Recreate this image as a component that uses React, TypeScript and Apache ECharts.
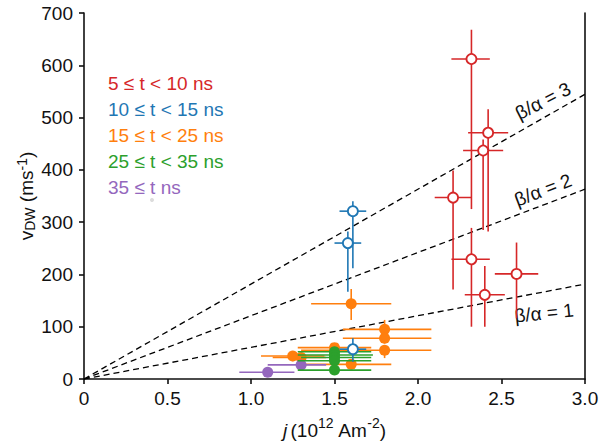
import React, { useEffect, useRef } from "react";
import * as echarts from "echarts";

// [j, v, jLow, jHigh, vLow, vHigh]
const red5to10 = [
  [2.32, 612, 2.2, 2.43, 325, 668],
  [2.42, 471, 2.3, 2.54, 282, 516],
  [2.39, 437, 2.27, 2.51, 285, 458],
  [2.21, 347, 2.1, 2.32, 171, 399],
  [2.32, 229, 2.2, 2.43, 100, 289],
  [2.59, 201, 2.46, 2.72, 116, 261],
  [2.4, 161, 2.28, 2.52, 100, 216],
];
const blue10to15 = [
  [1.61, 321, 1.53, 1.69, 212, 340],
  [1.58, 260, 1.5, 1.66, 167, 282],
  [1.61, 57, 1.53, 1.69, 33, 78],
];
const orange15to25 = [
  [1.6, 144, 1.36, 1.84, 113, 172],
  [1.8, 95, 1.55, 2.08, 82, 113],
  [1.8, 78, 1.55, 2.08, 68, 88],
  [1.8, 55, 1.3, 2.08, 40, 64],
  [1.6, 28, 1.28, 1.84, 22, 34],
  [1.25, 44, 1.06, 1.44, 34, 50],
  [1.3, 41, 1.13, 1.45, 36, 46],
  [1.5, 60, 1.28, 1.72, 54, 66],
];
const green25to35 = [
  [1.5, 52, 1.28, 1.72, 49, 55],
  [1.5, 46, 1.28, 1.73, 43, 49],
  [1.5, 41, 1.3, 1.72, 38, 44],
  [1.5, 35, 1.28, 1.72, 32, 38],
  [1.5, 17, 1.28, 1.72, 15, 19],
];
const purple35 = [
  [1.1, 13, 0.93, 1.26, 13, 13],
  [1.3, 27, 1.1, 1.45, 27, 27],
];
const ratioSlope = 60.5; // v per unit j for beta/alpha = 1
const ratios = [1, 2, 3];
const legendLabels = [
  "5 ≤ t < 10 ns",
  "10 ≤ t < 15 ns",
  "15 ≤ t < 25 ns",
  "25 ≤ t < 35 ns",
  "35 ≤ t ns",
];

const C_RED = "#d62728";
const C_BLUE = "#1f77b4";
const C_ORANGE = "#ff7f0e";
const C_GREEN = "#2ca02c";
const C_PURPLE = "#9467bd";
const FONT = "Liberation Sans, Arial, sans-serif";

function errSeries(data: number[][], color: string, z: number) {
  return {
    type: "custom",
    data,
    z,
    silent: true,
    encode: { x: 0, y: 1 },
    renderItem: (params: any, api: any) => {
      const x = api.value(0), y = api.value(1);
      const c = api.coord([x, y]);
      const xl = api.coord([api.value(2), y]);
      const xh = api.coord([api.value(3), y]);
      const yl = api.coord([x, api.value(4)]);
      const yh = api.coord([x, api.value(5)]);
      const st = { stroke: color, lineWidth: 1.6 };
      return {
        type: "group",
        children: [
          { type: "line", shape: { x1: xl[0], y1: c[1], x2: xh[0], y2: c[1] }, style: st },
          { type: "line", shape: { x1: c[0], y1: yl[1], x2: c[0], y2: yh[1] }, style: st },
        ],
      };
    },
  };
}

function ptSeries(data: number[][], color: string, open: boolean, z: number) {
  return {
    type: "scatter",
    data: data.map((d) => [d[0], d[1]]),
    z,
    symbol: "circle",
    symbolSize: open ? 10 : 11,
    itemStyle: open
      ? { color: "#ffffff", borderColor: color, borderWidth: 1.8, opacity: 1 }
      : { color, borderWidth: 0, opacity: 1 },
  };
}

export default function App() {
  const ref = useRef<HTMLDivElement>(null);
  useEffect(() => {
    if (!ref.current) return;
    const chart = echarts.init(ref.current, null, { renderer: "svg" });
    const lineSeries = ratios.map((r) => ({
      type: "line",
      data: [
        [0, 0],
        [3, r * ratioSlope * 3],
      ],
      symbol: "none",
      silent: true,
      z: 1,
      lineStyle: { color: "#000", width: 1.3, type: [6, 4] },
    }));
    const ratioLabelPos = [
      { x: 544, y: 313, rot: 6 },
      { x: 543, y: 190, rot: 21 },
      { x: 543, y: 101, rot: 27 },
    ];
    const option: any = {
      animation: false,
      backgroundColor: "#fff",
      grid: { left: 84, right: 15, top: 13, bottom: 62, outerBoundsMode: "none", containLabel: false },
      xAxis: {
        type: "value",
        min: 0,
        max: 3,
        interval: 0.5,
        name: "{i|j} {n|(10}{sup|12}{n| Am}{sup|-2}{n|)}",
        nameLocation: "middle",
        nameGap: 37,
        nameMoveOverlap: false,
        nameTextStyle: {
          rich: {
            i: { fontStyle: "italic", fontSize: 19, fontFamily: FONT, color: "#111", verticalAlign: "bottom", lineHeight: 24 },
            n: { fontSize: 19, fontFamily: FONT, color: "#111", verticalAlign: "bottom", lineHeight: 24 },
            sup: { fontSize: 14, fontFamily: FONT, color: "#111", verticalAlign: "top", lineHeight: 24 },
          },
        },
        axisLine: { show: true, lineStyle: { color: "#111", width: 1.6 } },
        axisTick: { show: true, inside: false, length: 5, lineStyle: { color: "#111", width: 1.6 } },
        splitLine: { show: false },
        axisLabel: {
          fontSize: 19,
          fontFamily: FONT,
          color: "#111",
          margin: 10,
          formatter: (v: number) => (v === 0 ? "0" : v.toFixed(1)),
        },
      },
      yAxis: [
        {
          type: "value",
          min: 0,
          max: 700,
          interval: 100,
          name: "{n|v}{sub|DW}{n| (ms}{sup|-1}{n|)}",
          nameLocation: "middle",
          nameGap: 47,
          nameRotate: 90,
          nameMoveOverlap: false,
          nameTextStyle: {
            rich: {
              n: { fontSize: 19, fontFamily: FONT, color: "#111", verticalAlign: "middle", lineHeight: 22 },
              sub: { fontSize: 14, fontFamily: FONT, color: "#111", verticalAlign: "bottom", lineHeight: 22 },
              sup: { fontSize: 14, fontFamily: FONT, color: "#111", verticalAlign: "top", lineHeight: 22 },
            },
          },
          axisLine: { show: true, lineStyle: { color: "#111", width: 1.6 } },
          axisTick: { show: true, inside: false, length: 5, lineStyle: { color: "#111", width: 1.6 } },
          splitLine: { show: false },
          axisLabel: { fontSize: 19, fontFamily: FONT, color: "#111", margin: 11 },
        },
        {
          type: "value",
          min: 0,
          max: 700,
          interval: 100,
          position: "right",
          axisLine: { show: true, onZero: false, lineStyle: { color: "#111", width: 1.6 } },
          axisTick: { show: false },
          axisLabel: { show: false },
          splitLine: { show: false },
        },
      ],
      series: [
        ...lineSeries,
        errSeries(orange15to25, C_ORANGE, 2),
        ptSeries(orange15to25, C_ORANGE, false, 3),
        errSeries(purple35, C_PURPLE, 4),
        ptSeries(purple35, C_PURPLE, false, 5),
        errSeries(green25to35, C_GREEN, 6),
        ptSeries(green25to35, C_GREEN, false, 7),
        errSeries(blue10to15, C_BLUE, 8),
        ptSeries(blue10to15, C_BLUE, true, 9),
        errSeries(red5to10, C_RED, 10),
        ptSeries(red5to10, C_RED, true, 11),
      ],
      graphic: [
        ...legendLabels.map((t, i) => ({
          type: "text",
          left: 108,
          top: 74 + i * 26,
          style: {
            text: t,
            fill: [C_RED, C_BLUE, C_ORANGE, C_GREEN, C_PURPLE][i],
            font: `19px ${FONT}`,
          },
        })),
        ...ratios.map((r, i) => ({
          type: "text",
          x: ratioLabelPos[i].x,
          y: ratioLabelPos[i].y,
          rotation: (ratioLabelPos[i].rot * Math.PI) / 180,
          style: {
            text: `β/α = ${r}`,
            fill: "#111",
            font: `19px ${FONT}`,
            textAlign: "center",
            textVerticalAlign: "middle",
          },
        })),
        {
          type: "circle",
          shape: { cx: 152, cy: 200, r: 2 },
          style: { fill: "#dcdcdc" },
          silent: true,
        },
      ],
    };
    chart.setOption(option);
    return () => chart.dispose();
  }, []);
  return (
    <div
      ref={ref}
      style={{ position: "fixed", left: 0, top: 0, width: 600, height: 441 }}
    />
  );
}
